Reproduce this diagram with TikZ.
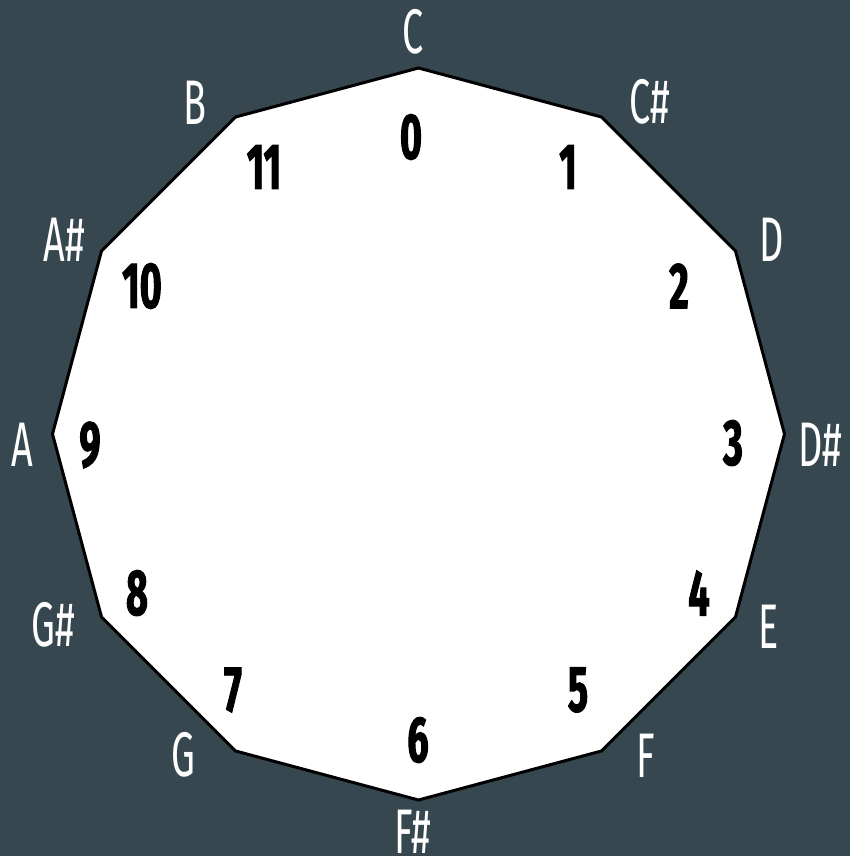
\documentclass[tikz,border=0pt]{standalone}
\usepackage{fontspec}
\usetikzlibrary{calc}
\newfontfamily\notefont[FakeStretch=0.6]{Fira Sans}
\newfontfamily\numfont[FakeStretch=0.58,BoldFeatures={FakeBold=1.5}]{Fira Sans}
\definecolor{bg}{HTML}{37474F}
\begin{document}
\begin{tikzpicture}[x=1pt,y=-1pt,
  note/.style={text=white,font=\notefont\fontsize{63}{63}\selectfont,inner sep=0pt,anchor=center},
  num/.style={text=black,font=\numfont\bfseries\fontsize{65}{65}\selectfont,inner sep=0pt,anchor=center}]
\fill[bg] (0,0) rectangle (850,856);
\useasboundingbox (0,0) rectangle (850,856);
\coordinate (O) at (418.5,434);
\foreach \k in {0,...,11}{
  \pgfmathsetmacro{\ang}{90-30*\k}
  \coordinate (v\k) at ($(O)+(\ang:366)$);
}
\draw[line width=3pt,fill=white,line join=miter]
  (v0) -- (v1) -- (v2) -- (v3) -- (v4) -- (v5) -- (v6) -- (v7) -- (v8) -- (v9) -- (v10) -- (v11) -- cycle;
% note names
\node[note] (nC)  at (413,32)  {C};
\node[note] (nCs) at (650,102) {C\#};
\node[note] (nD)  at (772,240) {D};
\node[note] (nDs) at (820,445) {D\#};
\node[note] (nE)  at (769,627) {E};
\node[note] (nF)  at (646,756) {F};
\node[note] (nFs) at (413,832) {F\#};
\node[note] (nG)  at (183,755) {G};
\node[note] (nGs) at (53,625)  {G\#};
\node[note] (nA)  at (22,445)  {A};
\node[note] (nAs) at (64,240)  {A\#};
\node[note] (nB)  at (195,103) {B};
% pitch-class numbers
\node[num] (p0)  at (411,137) {0};
\node[num] (p1)  at (568,167) {1};
\node[num] (p2)  at (679,286) {2};
\node[num] (p3)  at (733,443) {3};
\node[num] (p4)  at (699,593) {4};
\node[num] (p5)  at (578,690) {5};
\node[num] (p6)  at (418,740) {6};
\node[num] (p7)  at (233,690) {7};
\node[num] (p8)  at (137,593) {8};
\node[num] (p9)  at (90,445)  {9};
\node[num] (p10) at (142,286) {10};
\node[num] (p11) at (264,167) {11};
\end{tikzpicture}
\end{document}
